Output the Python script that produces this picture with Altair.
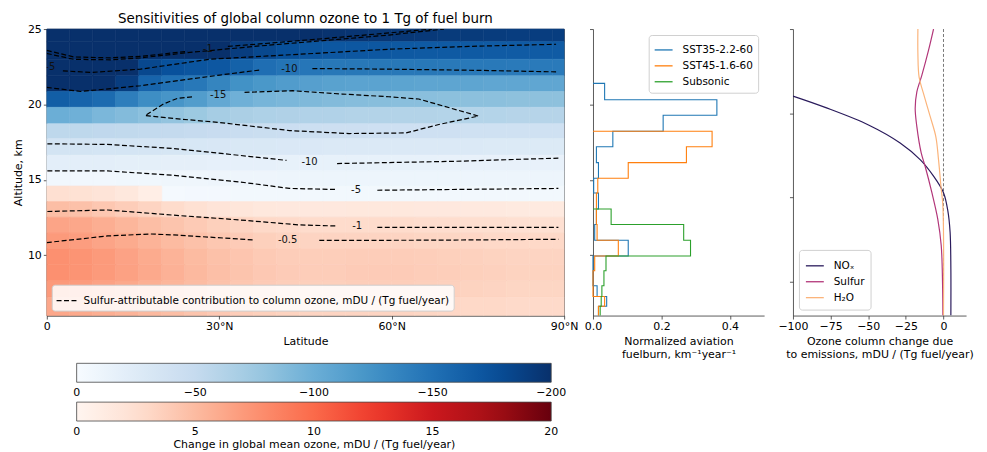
import altair as alt
import pandas as pd

# ---------------- heat map (global column ozone sensitivity) ----------------
lat_edges = [0, 4, 8, 12, 16, 20, 24, 28, 32, 36, 40, 44, 48, 52, 56, 60, 64, 68, 72, 76, 80, 84, 88, 90]
alt_edges = [25.0, 24.16, 23.0, 21.9, 20.86, 19.81, 18.72, 17.73, 16.63, 15.6, 14.59,
             13.56, 12.52, 11.47, 10.42, 9.37, 8.3, 7.2, 6.0]  # top -> bottom

r00 = [-240, -240, -240, -240, -240, -240, -235, -230, -225, -220, -210, -200, -198, -196, -195, -194, -193, -192, -192, -191, -190, -190, -190]
r01 = [-230, -230, -230, -228, -225, -222, -215, -205, -190, -182, -176, -172, -170, -170, -170, -169, -168, -168, -168, -167, -167, -167, -167]
r02 = [-215, -212, -210, -205, -182, -175, -172, -170, -162, -152, -148, -146, -145, -145, -145, -145, -145, -144, -144, -144, -143, -143, -143]
r03 = [-205, -205, -200, -190, -160, -150, -145, -135, -125, -120, -116, -113, -111, -110, -110, -109, -108, -108, -108, -107, -107, -107, -107]
r04 = [-165, -160, -155, -140, -128, -122, -115, -105, -98, -94, -92, -90, -88, -87, -86, -85, -85, -84, -84, -84, -83, -83, -83]
r05 = [-100, -98, -92, -88, -84, -80, -76, -70, -67, -65, -64, -63, -63, -62, -62, -62, -62, -61, -61, -61, -60, -60, -60]
r06 = [-55, -55, -54, -53, -52, -51, -50, -48, -47, -46, -45, -44, -43, -43, -42, -42, -42, -42, -41, -41, -41, -41, -41]
r07 = [-36, -36, -35, -35, -34, -33, -32, -31, -30, -30, -29, -29, -28, -28, -28, -28, -28, -28, -28, -27, -27, -27, -27]
r08 = [-20, -20, -20, -19, -19, -18, -18, -17, -17, -17, -16, -16, -16, -16, -16, -16, -16, -15, -15, -15, -15, -15, -15]
r09 = [-6, -6, -6, -7, -7, -8, -8, -9, -9, -9, -10, -10, -10, -10, -10, -10, -10, -10, -10, -10, -10, -10, -10]
r10 = [2.5, 2.3, 2.0, 1.6, 0.8, -3, -4, -4.5, -5, -5, -5, -5, -5, -5, -5, -5, -5, -5, -5, -5, -5, -5, -5]
r11 = [4.8, 4.6, 4.2, 3.8, 3.3, 2.8, 2.4, 2.0, 1.8, 1.6, 1.5, 1.5, 1.5, 1.6, 1.6, 1.6, 1.5, 1.5, 1.4, 1.4, 1.3, 1.3, 1.3]
r12 = [6.4, 6.2, 5.8, 5.3, 4.8, 4.4, 4.0, 3.6, 3.3, 3.0, 2.9, 2.8, 2.8, 2.8, 2.8, 2.8, 2.7, 2.7, 2.6, 2.6, 2.5, 2.5, 2.5]
r13 = [7.0, 6.8, 6.4, 6.0, 5.5, 5.0, 4.6, 4.2, 3.9, 3.6, 3.4, 3.3, 3.3, 3.3, 3.3, 3.3, 3.2, 3.2, 3.1, 3.0, 3.0, 3.0, 3.0]
r14 = [7.6, 7.4, 7.0, 6.5, 6.0, 5.5, 5.0, 4.6, 4.3, 4.0, 3.8, 3.7, 3.7, 3.8, 3.8, 3.8, 3.7, 3.6, 3.5, 3.4, 3.3, 3.3, 3.3]
r15 = [7.6, 7.4, 7.0, 6.6, 6.1, 5.6, 5.1, 4.7, 4.4, 4.1, 3.9, 3.8, 3.8, 3.9, 3.9, 3.9, 3.8, 3.7, 3.6, 3.5, 3.4, 3.4, 3.4]
r16 = [7.0, 6.9, 6.5, 6.1, 5.7, 5.3, 4.9, 4.5, 4.2, 3.9, 3.7, 3.6, 3.6, 3.7, 3.7, 3.7, 3.6, 3.5, 3.4, 3.3, 3.2, 3.2, 3.2]
r17 = [6.2, 6.1, 5.8, 5.5, 5.1, 4.8, 4.4, 4.1, 3.8, 3.6, 3.4, 3.3, 3.3, 3.3, 3.3, 3.3, 3.2, 3.1, 3.0, 3.0, 2.9, 2.9, 2.9]
ozone_rows = [r00, r01, r02, r03, r04, r05, r06, r07, r08, r09, r10, r11, r12, r13, r14, r15, r16, r17]

blues = ["#f7fbff", "#deebf7", "#c6dbef", "#9ecae1", "#6baed6", "#4292c6", "#2171b5", "#08519c", "#08306b"]
blue_stops = [0, -25, -50, -75, -100, -125, -150, -175, -200]
reds = ["#fff5f0", "#fee0d2", "#fcbba1", "#fc9272", "#fb6a4a", "#ef3b2c", "#cb181d", "#a50f15", "#67000d"]
red_stops = [0, 2.5, 5, 7.5, 10, 12.5, 15, 17.5, 20]
# colourbar tick positions (ends nudged inside the bar so their labels stay centred on the ends)
blue_ticks = [-0.01, -50, -100, -150, -199.99]
red_ticks = [0.001, 5, 10, 15, 19.999]

# ---------------- sulfur contour lines ----------------
cA1a_lat = [0, 4.7, 11.1, 16.3, 24.5]
cA1a_alt = [23.58, 23.15, 23.09, 23.19, 23.52]
cA1b_lat = [31.5, 37.0, 47.4, 59.5, 67.0]
cA1b_alt = [23.85, 24.01, 24.34, 24.74, 25.0]
cA2_lat = [0, 4.7, 11.1, 16.3, 24.9, 37.0, 47.4, 59.5, 69.1]
cA2_alt = [23.38, 22.99, 22.96, 23.09, 23.45, 23.88, 24.21, 24.60, 25.0]
cB_lat = [2.8, 7.6, 16.3, 28.4, 44.0, 59.5, 73.4, 88.6]
cB_alt = [22.23, 22.12, 22.34, 23.00, 23.33, 23.66, 23.85, 23.99]
cCa_lat = [0, 5.9, 16.3, 30.1, 37.0]
cCa_alt = [21.13, 20.86, 21.24, 21.95, 22.28]
cCb_lat = [46.2, 59.5, 75.1, 88.6]
cCb_alt = [22.38, 22.34, 22.26, 22.16]
cD_lat = [34.4, 42.8, 51.4, 59.5, 64.7, 75.1, 68.2, 62.5, 52.6, 42.2, 30.1, 22.3, 17.1, 20.3, 22.7, 25.4]
cD_alt = [20.80, 20.91, 20.69, 20.51, 20.36, 19.23, 18.67, 18.11, 18.07, 18.27, 18.80, 19.06, 19.26, 20.03, 20.40, 20.51]
cEa_lat = [0.1, 10.5, 22.0, 33.6, 41.7]
cEa_alt = [17.39, 17.35, 17.08, 16.62, 16.29]
cEb_lat = [50.5, 71.1, 89.0]
cEb_alt = [16.08, 16.23, 16.44]
cFa_lat = [0.1, 10.6, 22.0, 33.6, 42.2, 50.5]
cFa_alt = [15.59, 15.59, 15.30, 14.86, 14.43, 14.36]
cFb_lat = [57.5, 73.0, 89.0]
cFb_alt = [14.31, 14.37, 14.43]
cGa_lat = [0.1, 10.6, 22.0, 33.6, 44.0, 50.5]
cGa_alt = [12.90, 13.00, 12.66, 12.34, 12.01, 11.94]
cGb_lat = [57.5, 73.0, 89.0]
cGb_alt = [11.85, 11.85, 11.85]
cHa_lat = [0, 10.6, 18.0, 22.0, 35.8]
cHa_alt = [10.84, 11.28, 11.41, 11.35, 11.02]
cHb_lat = [47.4, 68.0, 89.0]
cHb_alt = [10.98, 11.00, 11.06]

clabel_text = ["-1", "-5", "-10", "-15", "-10", "-5", "-1", "-0.5"]
clabel_lat = [28.0, 0.6, 42.2, 29.8, 45.7, 53.8, 54.0, 41.9]
clabel_alt = [23.68, 22.45, 22.34, 20.65, 16.18, 14.31, 11.94, 10.98]

# ---------------- fuel burn histograms ----------------
hist_edges = [21.4, 20.31, 19.28, 18.22, 17.19, 16.14, 15.11, 14.13, 13.07, 12.04, 10.99, 9.95, 8.97, 7.98, 7.26, 6.62, 6.0]
sst35 = [0.034, 0.362, 0.205, 0.058, 0.010, 0.016, 0.002, 0.016, 0.010, 0.005, 0.103, 0.0, 0.0, 0.012, 0.040, 0.016]
sst45 = [0.0, 0.0, 0.0, 0.348, 0.273, 0.103, 0.014, 0.010, 0.010, 0.012, 0.074, 0.005, 0.0, 0.0, 0.034, 0.016]
subsonic = [0.0, 0.0, 0.0, 0.0, 0.0, 0.0, 0.0, 0.0, 0.053, 0.265, 0.285, 0.038, 0.032, 0.026, 0.024, 0.021]
hist_start_bin = [0, 3, 8]
hist_names = ["SST35-2.2-60", "SST45-1.6-60", "Subsonic"]
hist_colors = ["#1f77b4", "#ff7f0e", "#2ca02c"]

# ---------------- ozone column change profiles ----------------
nox_x = [-100, -78.6, -49.8, -28.8, -15.5, -6.6, 0, 2.9, 4.4, 4.9, 4.9]
nox_y = [21.02, 20.35, 19.31, 18.24, 17.25, 16.27, 15.29, 14.21, 12.94, 10.78, 8.0]
sulfur_x = [-6.6, -10, -14.4, -17.7, -18.8, -17.7, -14.8, -12.2, -7.7, -3.8, -1.5, -0.6, -0.4]
sulfur_y = [25, 23.72, 22.25, 21.27, 20.29, 19.21, 17.65, 16.86, 15.29, 13.72, 12.15, 9.8, 8.0]
h2o_x = [-17, -17, -16.2, -13.3, -8.8, -5.1, -3.3, -1.7, -0.4, 0]
h2o_y = [25, 23.53, 22.15, 21.18, 19.8, 18.62, 17.25, 15.68, 14.5, 8.0]
prof_names = ["NOₓ", "Sulfur", "H₂O"]
prof_colors = ["#2a1b5c", "#b23679", "#fbb47b"]

FONT = "DejaVu Sans"

# ---- build tables ----
heat_records = []
for i, row in enumerate(ozone_rows):
    for j, v in enumerate(row):
        heat_records.append({"lat0": lat_edges[j], "lat1": lat_edges[j + 1],
                             "alt0": alt_edges[i + 1], "alt1": alt_edges[i], "val": v, "edgeval": v})
heat_df = pd.DataFrame(heat_records)

segments = [(cA1a_lat, cA1a_alt), (cA1b_lat, cA1b_alt), (cA2_lat, cA2_alt), (cB_lat, cB_alt),
            (cCa_lat, cCa_alt), (cCb_lat, cCb_alt), (cD_lat, cD_alt), (cEa_lat, cEa_alt),
            (cEb_lat, cEb_alt), (cFa_lat, cFa_alt), (cFb_lat, cFb_alt), (cGa_lat, cGa_alt),
            (cGb_lat, cGb_alt), (cHa_lat, cHa_alt), (cHb_lat, cHb_alt)]
cont_records = []
for s, (la, al) in enumerate(segments):
    for k, (x, y) in enumerate(zip(la, al)):
        cont_records.append({"lat": x, "alt": y, "seg": s, "idx": k,
                             "key": "Sulfur-attributable contribution to column ozone, mDU / (Tg fuel/year)"})
cont_df = pd.DataFrame(cont_records)
clab_df = pd.DataFrame({"lat": clabel_lat, "alt": clabel_alt, "txt": clabel_text})

hist_records = []
for name, vals, b0 in zip(hist_names, [sst35, sst45, subsonic], hist_start_bin):
    k = 0
    hist_records.append({"series": name, "v": 0.0, "alt": hist_edges[b0], "idx": k}); k += 1
    for i in range(b0, len(vals)):
        hist_records.append({"series": name, "v": vals[i], "alt": hist_edges[i], "idx": k}); k += 1
        hist_records.append({"series": name, "v": vals[i], "alt": hist_edges[i + 1], "idx": k}); k += 1
hist_df = pd.DataFrame(hist_records)

prof_records = []
for name, xs, ys in zip(prof_names, [nox_x, sulfur_x, h2o_x], [nox_y, sulfur_y, h2o_y]):
    for k, (x, y) in enumerate(zip(xs, ys)):
        prof_records.append({"species": name, "x": x, "alt": y, "idx": k})
prof_df = pd.DataFrame(prof_records)

# ---------------- panel 1 ----------------
W1, H = 520, 288
xlat = alt.X("lat0:Q", scale=alt.Scale(domain=[0, 90], nice=False),
             axis=alt.Axis(values=[0, 30, 60, 90], title="Latitude",
                           labelExpr="datum.value == 0 ? '0' : datum.value + '°N'"))
yalt = alt.Y("alt0:Q", scale=alt.Scale(domain=[6, 25], nice=False),
             axis=alt.Axis(values=[10, 15, 20, 25], title="Altitude, km"))

blue_scale = alt.Scale(domain=blue_stops, range=blues, interpolate="rgb", clamp=True)
red_scale = alt.Scale(domain=red_stops, range=reds, interpolate="rgb", clamp=True)
# edge (stroke) scales: same mapping, listed in reverse order so they stay separate from the legends
blue_scale_e = alt.Scale(domain=blue_stops[::-1], range=blues[::-1], interpolate="rgb", clamp=True)
red_scale_e = alt.Scale(domain=red_stops[::-1], range=reds[::-1], interpolate="rgb", clamp=True)

bar_legend = dict(type="gradient", orient="none", legendX=30, direction="horizontal",
                  gradientLength=477, gradientThickness=19,
                  labelFontSize=11, labelOffset=5, gradientStrokeColor="#444",
                  gradientStrokeWidth=0.8, labelOverlap=False,
                  labelExpr="abs(datum.value) < 0.5 ? '0' : format(round(datum.value), 'd')")

base_heat = alt.Chart(heat_df)
neg = base_heat.transform_filter("datum.val <= 0").mark_rect(strokeWidth=0.6).encode(
    x=xlat, x2="lat1:Q", y=yalt, y2="alt1:Q",
    fill=alt.Fill("val:Q", scale=blue_scale,
                  legend=alt.Legend(legendY=336, title=None, values=blue_ticks, **bar_legend)),
    stroke=alt.Stroke("edgeval:Q", scale=blue_scale_e, legend=None),
)
pos = base_heat.transform_filter("datum.val > 0").mark_rect(strokeWidth=0.6).encode(
    x=xlat, x2="lat1:Q", y=yalt, y2="alt1:Q",
    fill=alt.Fill("val:Q", scale=red_scale,
                  legend=alt.Legend(legendY=375,
                                    title="Change in global mean ozone, mDU / (Tg fuel/year)",
                                    titleOrient="bottom", titleAnchor="middle", titleFontSize=11,
                                    titleFontWeight="normal", titlePadding=2, titleLimit=800,
                                    values=red_ticks, **bar_legend)),
    stroke=alt.Stroke("edgeval:Q", scale=red_scale_e, legend=None),
)
contours = alt.Chart(cont_df).mark_line(color="black", strokeWidth=1.2, clip=True).encode(
    x=alt.X("lat:Q"), y=alt.Y("alt:Q"), detail="seg:N", order="idx:Q",
    strokeDash=alt.StrokeDash("key:N", scale=alt.Scale(range=[[5, 2.5]]),
                              legend=alt.Legend(orient="bottom-left", title=None, offset=5,
                                                labelLimit=600, labelFontSize=10.5,
                                                fillColor="rgba(255,255,255,0.85)", strokeColor="#d0d0d0",
                                                padding=4, cornerRadius=3, symbolType="stroke",
                                                symbolSize=500, symbolStrokeWidth=1.3,
                                                symbolStrokeColor="black")),
)
clabels = alt.Chart(clab_df).mark_text(fontSize=10, color="#111", clip=True, font=FONT).encode(
    x="lat:Q", y="alt:Q", text="txt:N")

panel1 = alt.layer(neg, pos, contours, clabels).resolve_scale(
    fill="independent", stroke="independent").properties(
    width=W1, height=H,
    title=alt.TitleParams("Sensitivities of global column ozone to 1 Tg of fuel burn",
                          fontSize=13.5, fontWeight="normal", anchor="middle", offset=-2, font=FONT))

# ---------------- panel 2 ----------------
leg_common = dict(title=None, labelFontSize=10.5, fillColor="rgba(255,255,255,0.85)",
                  strokeColor="#d0d0d0", cornerRadius=3, symbolType="stroke",
                  symbolStrokeWidth=1.3, labelOffset=9, rowPadding=0, symbolSize=324)
panel2 = alt.Chart(hist_df).mark_line(strokeWidth=1.1).encode(
    x=alt.X("v:Q", scale=alt.Scale(domain=[0, 0.5], nice=False),
            axis=alt.Axis(values=[0, 0.2, 0.4], format=".1f",
                          title=["Normalized aviation", "fuelburn, km⁻¹year⁻¹"])),
    y=alt.Y("alt:Q", scale=alt.Scale(domain=[6, 25], nice=False),
            axis=alt.Axis(values=[10, 15, 20, 25], labels=False, title=None)),
    color=alt.Color("series:N", scale=alt.Scale(domain=hist_names, range=hist_colors),
                    legend=alt.Legend(orient="top-right", offset=6, padding=5, **leg_common)),
    order="idx:Q",
).properties(width=172, height=H, view=alt.ViewBackground(stroke="transparent"))

# ---------------- panel 3 ----------------
zero_df = pd.DataFrame({"x": [0]})
zero_rule = alt.Chart(zero_df).mark_rule(color="#555", strokeDash=[3, 2], strokeWidth=0.8).encode(x="x:Q")
prof = alt.Chart(prof_df).mark_line(strokeWidth=1.2, interpolate="catmull-rom", clip=True).encode(
    x=alt.X("x:Q", scale=alt.Scale(domain=[-100, 15], nice=False),
            axis=alt.Axis(values=[-100, -75, -50, -25, 0],
                          title=["Ozone column change due", "to emissions, mDU / (Tg fuel/year)"])),
    y=alt.Y("alt:Q", scale=alt.Scale(domain=[8, 25], nice=False),
            axis=alt.Axis(values=[10, 15, 20, 25], labels=False, title=None)),
    color=alt.Color("species:N", scale=alt.Scale(domain=prof_names, range=prof_colors),
                    legend=alt.Legend(orient="bottom-left", offset=6, padding=6, **leg_common)),
    order="idx:Q",
)
panel3 = alt.layer(zero_rule, prof).properties(width=174, height=H,
                                                view=alt.ViewBackground(stroke="transparent"))

chart = alt.hconcat(panel1, panel2, panel3, spacing=29, bounds="flush").resolve_scale(
    color="independent", fill="independent", strokeDash="independent", stroke="independent"
).properties(
    padding={"left": 4, "top": 2, "right": 5, "bottom": 2}
).configure(font=FONT).configure_view(
    stroke="#333", strokeWidth=0.8
).configure_axis(
    grid=False, labelFontSize=11, titleFontSize=11, titleFontWeight="normal",
    labelColor="black", titleColor="black", tickColor="#333", domainColor="#333",
    tickSize=3.5, labelPadding=2, titlePadding=4, domainWidth=0.8, tickWidth=0.8,
    labelFlush=False
).configure_legend(labelColor="black", labelFont=FONT, titleFont=FONT)

chart.save("out.html", embed_options={"renderer": "svg", "actions": False})
